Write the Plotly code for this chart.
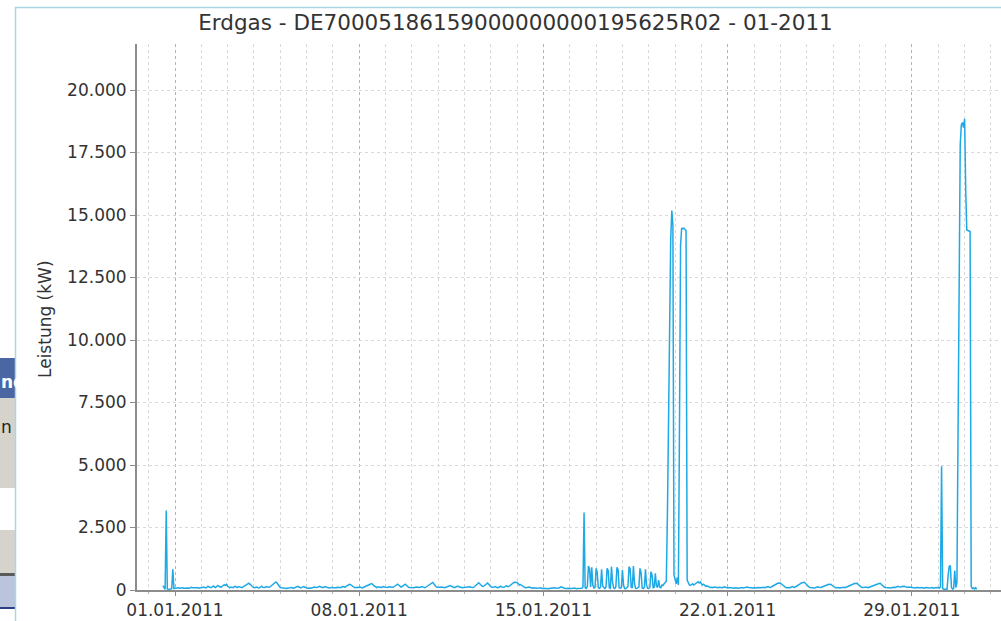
import pandas as pd
import plotly.graph_objects as go

# ---- data: hourly power (kW), one array per day ----
day_starts = ["2010-12-31 13:00"] + [f"2011-01-{d:02d} 00:00" for d in range(1, 32)]

d1231 = [170, 60, 30, 3180, 40, 20, 30, 20, 50, 830, 60]
d0101 = [70, 80, 60, 90, 70, 80, 100, 90, 70, 80, 90, 100,
         80, 70, 90, 110, 90, 80, 70, 90, 100, 80, 70, 90]
d0102 = [80, 100, 120, 90, 80, 110, 150, 120, 100, 90, 130, 160,
         120, 100, 140, 180, 150, 120, 110, 150, 190, 210, 180, 230]
d0103 = [150, 100, 90, 120, 110, 90, 130, 150, 120, 100, 140, 120,
         110, 90, 130, 150, 170, 200, 230, 270, 250, 220, 160, 120]
d0104 = [100, 90, 120, 110, 80, 90, 130, 150, 110, 90, 100, 130,
         120, 90, 110, 140, 180, 220, 260, 300, 320, 280, 200, 140]
d0105 = [100, 90, 80, 70, 90, 80, 60, 80, 70, 90, 100, 80,
         70, 90, 110, 130, 150, 120, 90, 80, 110, 140, 120, 90]
d0106 = [80, 70, 90, 80, 70, 90, 100, 120, 100, 90, 110, 130,
         150, 120, 100, 90, 120, 140, 110, 90, 100, 80, 90, 110]
d0107 = [90, 80, 100, 90, 110, 120, 100, 90, 120, 140, 130, 110,
         150, 170, 200, 230, 210, 170, 130, 110, 90, 100, 120, 110]
d0108 = [100, 120, 90, 80, 110, 130, 120, 150, 180, 200, 230, 260,
         240, 180, 140, 120, 100, 130, 110, 90, 100, 120, 140, 120]
d0109 = [110, 90, 100, 130, 120, 100, 90, 110, 140, 160, 190, 230,
         200, 150, 120, 140, 170, 210, 230, 190, 140, 110, 100, 90]
d0110 = [80, 100, 90, 110, 130, 120, 100, 90, 110, 140, 120, 100,
         90, 120, 150, 180, 220, 260, 290, 300, 250, 180, 130, 110]
d0111 = [100, 90, 110, 120, 100, 80, 90, 110, 130, 120, 150, 180,
         150, 120, 100, 90, 120, 140, 160, 130, 110, 100, 90, 100]
d0112 = [110, 90, 100, 120, 140, 130, 110, 90, 100, 130, 160, 200,
         250, 290, 260, 200, 160, 140, 170, 220, 260, 280, 230, 170]
d0113 = [130, 110, 100, 120, 140, 110, 90, 100, 130, 150, 120, 100,
         110, 140, 170, 150, 130, 160, 200, 240, 280, 300, 310, 320]
d0114 = [300, 250, 200, 220, 180, 140, 120, 100, 90, 110, 130, 120,
         100, 80, 70, 90, 100, 80, 70, 60, 80, 90, 70, 60]
d0115 = [70, 60, 80, 70, 60, 50, 70, 80, 60, 70, 90, 80,
         60, 70, 80, 100, 130, 110, 80, 70, 60, 70, 80, 60]
d0116 = [70, 60, 50, 70, 80, 60, 50, 60, 70, 80, 60, 70,
         120, 3100, 90, 60, 150, 960, 850, 120, 907, 200, 80, 100]
d0117 = [867, 700, 90, 70, 110, 827, 150, 80, 60, 120, 867, 780,
         90, 70, 933, 300, 80, 60, 130, 907, 820, 100, 70, 90]
d0118 = [800, 200, 60, 50, 80, 140, 933, 850, 110, 80, 960, 250,
         70, 60, 90, 120, 867, 700, 80, 60, 110, 827, 180, 70]
d0119 = [60, 100, 733, 600, 90, 120, 667, 150, 100, 400, 120, 90,
         200, 180, 250, 300, 350, 3000, 7000, 11000, 14000, 15180, 14600, 600]
d0120 = [400, 250, 500, 200, 6500, 13800, 14480, 14450, 14470, 14420, 14380, 400,
         250, 200, 180, 220, 250, 200, 230, 260, 300, 330, 280, 320]
d0121 = [250, 200, 230, 180, 150, 170, 140, 120, 100, 110, 90, 100,
         120, 100, 80, 90, 110, 100, 80, 90, 110, 130, 110, 90]
d0122 = [80, 100, 90, 70, 90, 80, 70, 90, 100, 80, 70, 90,
         110, 100, 80, 90, 120, 140, 120, 100, 90, 110, 100, 80]
d0123 = [90, 70, 80, 100, 90, 80, 70, 90, 110, 100, 90, 120,
         140, 130, 110, 100, 130, 160, 190, 220, 250, 260, 280, 270]
d0124 = [280, 240, 200, 150, 120, 100, 90, 110, 100, 90, 120, 140,
         120, 100, 130, 150, 170, 200, 240, 280, 300, 320, 310, 260]
d0125 = [200, 150, 120, 100, 90, 110, 100, 80, 90, 110, 130, 110,
         90, 100, 120, 140, 160, 180, 200, 210, 230, 220, 230, 190]
d0126 = [150, 120, 100, 90, 110, 100, 80, 90, 100, 120, 110, 90,
         100, 120, 150, 170, 190, 210, 240, 260, 270, 250, 270, 220]
d0127 = [170, 130, 110, 100, 90, 110, 120, 100, 90, 110, 130, 150,
         140, 160, 190, 220, 250, 270, 260, 270, 220, 170, 130, 110]
d0128 = [100, 90, 110, 100, 90, 80, 100, 120, 110, 100, 130, 150,
         130, 110, 120, 140, 160, 150, 130, 110, 100, 120, 110, 90]
d0129 = [80, 90, 70, 80, 100, 90, 80, 70, 90, 100, 80, 70,
         90, 110, 100, 80, 70, 90, 100, 80, 70, 90, 100, 80]
d0130 = [100, 80, 120, 4950, 60, 30, 40, 50, 30, 600, 950, 980,
         100, 40, 60, 780, 100, 300, 7000, 13500, 17800, 18600, 18700, 18500]
d0131 = [18850, 16000, 14400, 14380, 14360, 14340, 150, 60, 80, 40, 90, 30]

days = [d1231, d0101, d0102, d0103, d0104, d0105, d0106, d0107, d0108, d0109,
        d0110, d0111, d0112, d0113, d0114, d0115, d0116, d0117, d0118, d0119,
        d0120, d0121, d0122, d0123, d0124, d0125, d0126, d0127, d0128, d0129,
        d0130, d0131]

title_text = "Erdgas - DE70005186159000000000195625R02 - 01-2011"
y_title = "Leistung (kW)"

times = []
vals = []
for start, arr in zip(day_starts, days):
    times.extend(pd.date_range(start, periods=len(arr), freq="h"))
    vals.extend(arr)

# ---- layout geometry helpers (pixels -> paper) ----
L, R, T, B = 137, 1001, 44, 590
W, H = R - L, B - T


def px(x):
    return (x - L) / W


def py(y):
    return (B - y) / H


FONT = "DejaVu Sans"

fig = go.Figure()
fig.add_trace(go.Scatter(x=times, y=vals, mode="lines",
                         line=dict(color="#1ea9e6", width=1.5),
                         hoverinfo="x+y", showlegend=False))

shapes = []
# left fragment of another window
ui = [
    (358, 398, "#4a66a3"),
    (398, 488, "#d6d3cc"),
    (488, 530, "#ffffff"),
    (530, 573, "#d6d3cc"),
    (573, 576, "#5a5a5a"),
    (576, 607, "#bac4dc"),
    (607, 609, "#2c3f86"),
]
for y0, y1, c in ui:
    shapes.append(dict(type="rect", xref="paper", yref="paper",
                       x0=px(-2), x1=px(15), y0=py(y1), y1=py(y0),
                       fillcolor=c, line=dict(width=0), layer="above"))
# frame lines
shapes.append(dict(type="line", xref="paper", yref="paper",
                   x0=px(15), x1=px(1003), y0=py(7.5), y1=py(7.5),
                   line=dict(color="#a6d8e2", width=1.5)))
shapes.append(dict(type="line", xref="paper", yref="paper",
                   x0=px(15.5), x1=px(15.5), y0=py(7), y1=py(625),
                   line=dict(color="#a6d8e2", width=1.5)))

annotations = [
    dict(text=y_title, xref="paper", yref="paper", x=px(45), y=py(319),
         textangle=-90, showarrow=False, xanchor="center", yanchor="middle",
         font=dict(family=FONT, size=17, color="#333333")),
    dict(text="<b>nd</b>", xref="paper", yref="paper", x=px(-1), y=py(382),
         showarrow=False, xanchor="left", yanchor="middle",
         font=dict(family=FONT, size=17, color="#ffffff")),
    dict(text="n", xref="paper", yref="paper", x=px(-1), y=py(427),
         showarrow=False, xanchor="left", yanchor="middle",
         font=dict(family=FONT, size=17, color="#222222")),
]

fig.update_layout(
    width=1001, height=621, autosize=False,
    margin=dict(l=L, r=1001 - R, t=T, b=621 - B, autoexpand=False),
    paper_bgcolor="white", plot_bgcolor="white",
    separators=",.",
    title=dict(text=title_text, x=515.5 / 1001, xref="container", xanchor="center",
               y=1 - 22 / 621, yref="container", yanchor="middle",
               font=dict(family=FONT, size=21.5, color="#333333")),
    shapes=shapes, annotations=annotations,
    xaxis=dict(
        type="date",
        range=["2010-12-30 13:21", "2011-02-01 09:11"],
        tick0="2011-01-01", dtick=7 * 86400000, tickformat="%d.%m.%Y",
        ticks="outside", ticklen=4, tickcolor="#8c8c8c",
        showgrid=True, gridcolor="#b4b4b4", griddash="3px,3px", gridwidth=1,
        minor=dict(dtick=86400000, tick0="2011-01-01", showgrid=True,
                   gridcolor="#d9d9d9", griddash="3px,3px", gridwidth=1,
                   ticks="outside", ticklen=2, tickcolor="#b0b0b0"),
        showline=True, linecolor="#8c8c8c", linewidth=2,
        zeroline=False, automargin=False,
        tickfont=dict(family=FONT, size=17, color="#333333"),
    ),
    yaxis=dict(
        range=[0, 21840], tick0=0, dtick=2500, tickformat=",.0f",
        ticks="outside", ticklen=5, tickcolor="#8c8c8c",
        showgrid=True, gridcolor="#d9d9d9", griddash="3px,3px", gridwidth=1,
        showline=True, linecolor="#8c8c8c", linewidth=2,
        zeroline=False, automargin=False,
        tickfont=dict(family=FONT, size=17, color="#333333"),
    ),
)

fig.write_html(
    "out.html",
    config={"displayModeBar": False},
    post_script="document.body.style.margin='0';document.body.style.overflow='hidden';",
)
